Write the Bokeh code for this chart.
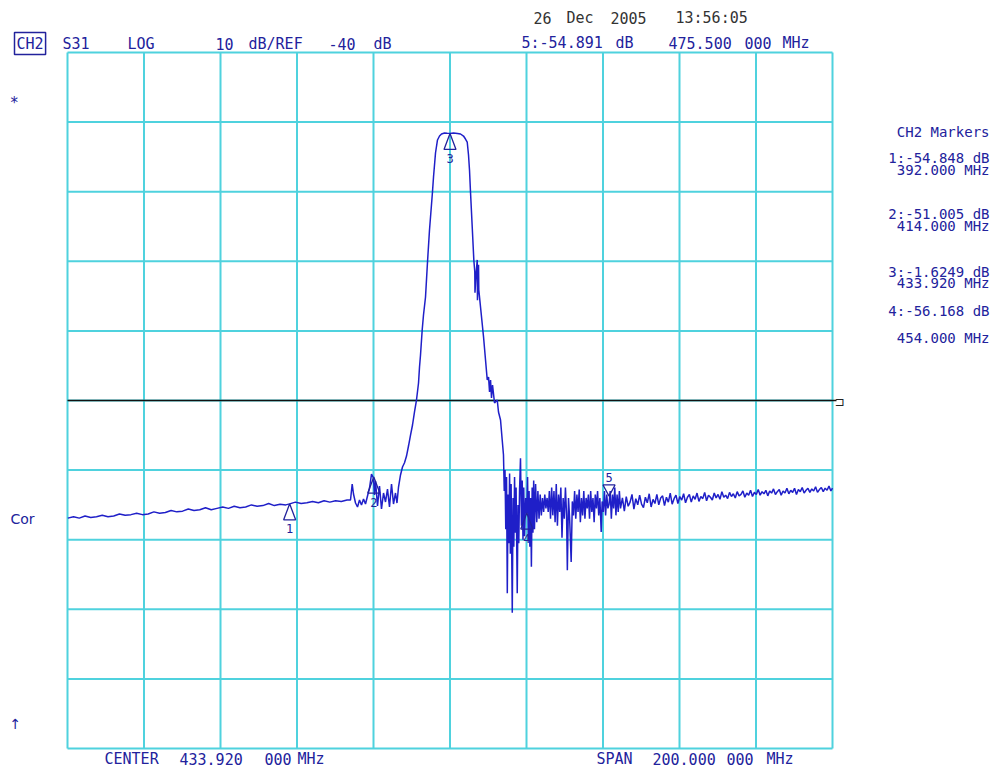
from bokeh.plotting import figure
from bokeh.models import Label, Range1d
from bokeh.core.properties import value
from bokeh.embed import file_html
from bokeh.resources import INLINE

# ---------------- instrument settings ----------------
center_mhz = 433.92
span_mhz = 200.0
ref_db = -40.0
x_ticks = [333.92, 353.92, 373.92, 393.92, 413.92, 433.92, 453.92, 473.92, 493.92, 513.92, 533.92]
y_ticks = [10, 0, -10, -20, -30, -40, -50, -60, -70, -80, -90]

# ---------------- markers ----------------
marker_ids = ["1", "2", "3", "4"]
marker_mhz = [392.0, 414.0, 433.92, 454.0]
marker_db = [-54.848, -51.005, -1.6249, -56.168]
active_id = "5"
active_mhz = 475.5
active_db = -54.891

# ---------------- trace S31 (MHz, dB) ----------------
stop_lo_f = [334.0, 335.5, 337.0, 338.5, 340.0, 341.5, 343.0, 344.5, 346.0, 347.5, 349.0, 350.5,
             352.0, 353.5, 355.0, 356.5, 358.0, 359.5, 361.0, 362.5, 364.0, 365.5, 367.0, 368.5,
             370.0, 371.5, 373.0, 374.5, 376.0, 377.5, 379.0, 380.5, 382.0, 383.5, 385.0, 386.5,
             388.0, 389.5, 391.0, 392.0, 393.5, 395.0, 396.5, 398.0, 399.5, 401.0, 402.5, 404.0,
             405.5, 407.0]
stop_lo_db = [-56.9, -56.7, -56.9, -56.6, -56.8, -56.7, -56.5, -56.7, -56.6, -56.3, -56.5, -56.4,
              -56.2, -56.4, -56.3, -56.0, -56.2, -56.1, -55.8, -56.0, -55.9, -55.6, -55.8, -55.7,
              -55.4, -55.7, -55.5, -55.3, -55.5, -55.2, -55.4, -55.3, -55.0, -55.2, -55.1, -54.8,
              -55.1, -54.9, -55.0, -54.85, -54.6, -54.8, -54.7, -54.5, -54.7, -54.4, -54.6, -54.4,
              -54.5, -54.3]

ripple_lo_f = [407.91, 408.35, 408.69, 409.22, 409.74, 410.26, 410.78, 411.31, 411.83, 412.35,
               412.88, 413.40, 413.92, 414.18, 414.44, 414.97, 415.49, 416.01, 416.54, 417.06,
               417.58, 418.10, 418.63, 419.15, 419.67, 420.06]
ripple_lo_db = [-54.30, -52.0, -53.43, -54.73, -55.30, -54.30, -55.01, -54.15, -54.87, -53.72,
                -52.57, -50.56, -51.13, -53.58, -51.57, -55.16, -52.28, -55.59, -53.29, -54.58,
                -52.72, -55.30, -52.0, -54.87, -53.29, -54.73]

skirt_lo_f = [420.46, 420.98, 421.50, 422.03, 422.55, 423.07, 423.60, 424.12, 424.64, 425.16,
              425.69, 425.95, 426.21, 426.65, 426.99, 427.52, 428.04, 428.56, 429.34, 429.61,
              430.13, 430.65]
skirt_lo_db = [-52.43, -50.70, -49.55, -48.95, -47.98, -46.54, -44.96, -43.52, -41.65, -39.93,
               -37.49, -35.19, -33.46, -29.87, -27.72, -25.13, -20.10, -15.50, -10.04, -7.89,
               -4.44, -2.57]

pass_f = [431.18, 431.70, 432.48, 433.20, 433.92, 434.84, 435.88, 436.67, 437.45, 437.97, 438.42]
pass_db = [-2.00, -1.71, -1.57, -1.60, -1.62, -1.55, -1.64, -1.71, -2.00, -2.43, -2.86]

skirt_hi_f = [438.76, 439.02, 439.28, 439.73, 440.15, 440.40, 440.45, 440.72, 441.04, 441.10,
              441.38, 441.45, 441.90, 442.69, 443.66, 444.00, 444.26, 444.52, 444.77, 445.04,
              445.56, 446.27, 446.60, 447.13, 447.57]
skirt_hi_db = [-4.73, -6.88, -10.04, -15.07, -19.81, -21.5, -24.5, -22.0, -19.8, -25.6,
               -20.5, -24.1, -26.57, -30.88, -37.05, -36.62, -38.78, -37.05, -39.64, -37.77,
               -40.36, -39.93, -41.65, -42.80, -45.67]

spur_f = [447.9, 448.1, 448.3, 448.5, 448.7, 448.9, 449.1, 449.3, 449.5, 449.7, 449.9, 450.2,
          450.4, 450.6, 450.8, 451.0, 451.2, 451.5, 451.7, 451.9, 452.1, 452.35, 452.6, 452.8,
          453.0, 453.2, 453.4, 453.7, 454.0, 454.2, 454.4, 454.6, 454.8, 455.0, 455.2, 455.4,
          455.6, 455.8, 456.0, 456.3, 456.6, 456.9, 457.2, 457.5, 457.8, 458.1, 458.4, 458.7,
          459.0, 459.3, 459.6, 459.9, 460.2, 460.5, 460.8, 461.1, 461.4, 461.7, 462.0, 462.3,
          462.6, 462.9, 463.2, 463.5, 463.8, 464.1, 464.4, 464.6, 464.9, 465.2, 465.6, 465.9,
          466.2, 466.5, 466.8, 467.1, 467.4, 467.7, 468.0, 468.3, 468.6, 468.9, 469.2, 469.5,
          469.8, 470.1, 470.4, 470.7, 471.0, 471.3, 471.6, 471.9, 472.2, 472.5, 472.8, 473.1,
          473.45, 473.7, 474.0, 474.3, 474.6, 474.9, 475.2, 475.5, 475.8, 476.1, 476.4, 476.7,
          477.0, 477.3, 477.6, 477.9, 478.2, 478.5]
spur_db = [-47.8, -53.0, -50.0, -58.5, -51.0, -67.7, -53.5, -60.5, -50.5, -62.0, -52.0, -70.5,
           -54.0, -61.0, -51.0, -59.0, -52.5, -67.7, -55.0, -60.5, -53.0, -48.3, -58.0, -51.5,
           -60.0, -52.5, -59.5, -54.0, -56.2, -51.0, -60.0, -53.0, -61.0, -54.0, -63.9, -52.5,
           -59.0, -51.5, -58.5, -52.0, -57.5, -53.0, -57.0, -53.5, -56.5, -54.0, -56.0, -53.5,
           -55.5, -54.0, -56.0, -53.0, -57.0, -52.5, -56.5, -53.0, -57.5, -52.0, -58.0, -53.5,
           -56.0, -52.5, -59.7, -54.0, -57.0, -52.5, -56.5, -64.4, -54.0, -57.0, -63.2, -54.5,
           -56.5, -53.0, -57.0, -53.5, -56.0, -52.8, -57.5, -54.0, -56.5, -53.0, -57.0, -54.0,
           -55.5, -53.5, -57.0, -53.0, -56.0, -54.0, -57.5, -53.5, -55.5, -53.0, -56.5, -54.0,
           -58.9, -54.5, -56.0, -53.0, -56.5, -53.5, -55.5, -54.9, -53.0, -57.0, -53.5, -55.5,
           -52.5, -56.5, -53.5, -56.0, -53.0, -55.5]

stop_hi_f = [479.0, 479.5, 480.0, 480.5, 481.0, 481.5, 482.0, 482.5, 483.0, 483.5, 484.0, 484.5,
             485.0, 485.5, 486.0, 486.5, 487.0, 487.5, 488.0, 488.5, 489.0, 489.5, 490.0, 490.5,
             491.0, 491.5, 492.0, 492.5, 493.0, 493.5, 494.0, 494.5, 495.0, 495.5, 496.0, 496.5,
             497.0, 497.5, 498.0, 498.5, 499.0, 499.5, 500.0, 500.5, 501.0, 501.5, 502.0, 502.5,
             503.0, 503.5, 504.0, 504.5, 505.0, 505.5, 506.0, 506.5, 507.0, 507.5, 508.0, 508.5,
             509.0, 509.5, 510.0, 510.5, 511.0, 511.5, 512.0, 512.5, 513.0, 513.5, 514.0, 514.5,
             515.0, 515.5, 516.0, 516.5, 517.0, 517.5, 518.0, 518.5, 519.0, 519.5, 520.0, 520.5,
             521.0, 521.5, 522.0, 522.5, 523.0, 523.5, 524.0, 524.5, 525.0, 525.5, 526.0, 526.5,
             527.0, 527.5, 528.0, 528.5, 529.0, 529.5, 530.0, 530.5, 531.0, 531.5, 532.0, 532.5,
             533.0, 533.5, 533.92]
stop_hi_db = [-54.0, -55.9, -53.8, -55.2, -54.6, -53.5, -55.6, -54.1, -55.0, -53.6, -54.9, -55.4,
              -53.9, -54.7, -53.4, -55.3, -54.2, -54.8, -53.5, -55.0, -54.0, -53.7, -55.1, -53.9,
              -54.6, -53.3, -54.9, -54.1, -53.6, -54.8, -53.8, -54.3, -53.4, -54.7, -53.9, -53.5,
              -54.6, -53.7, -54.2, -53.3, -54.5, -53.8, -54.1, -53.2, -54.4, -53.6, -53.9, -54.3,
              -53.3, -54.0, -53.5, -54.2, -53.1, -53.9, -53.6, -54.1, -53.2, -53.8, -53.4, -54.0,
              -53.1, -53.7, -53.5, -53.0, -53.9, -53.3, -53.6, -52.9, -53.8, -53.2, -53.5, -52.8,
              -53.6, -53.1, -53.4, -52.9, -53.7, -53.0, -53.3, -52.7, -53.5, -53.1, -52.8, -53.6,
              -53.0, -53.3, -52.6, -53.4, -52.9, -53.2, -52.6, -53.5, -52.8, -53.1, -52.5, -53.3,
              -52.9, -52.6, -53.2, -52.7, -53.0, -52.4, -53.2, -52.8, -52.5, -53.1, -52.6, -52.9,
              -52.3, -53.0, -52.6]

trace_f = stop_lo_f + ripple_lo_f + skirt_lo_f + pass_f + skirt_hi_f + spur_f + stop_hi_f
trace_db = stop_lo_db + ripple_lo_db + skirt_lo_db + pass_db + skirt_hi_db + spur_db + stop_hi_db

# ---------------- styling / layout ----------------
CYAN = "#4fd2de"
TRACE = "#1f1fc8"
BLUE = "#22229c"
DARK = "#333333"
MONO = "DejaVu Sans Mono"

W, H = 990, 767
FL, FR, FT, FB = 67, 832, 52, 748   # grid edges in page pixels
X0, X1 = x_ticks[0], x_ticks[-1]
Y0, Y1 = y_ticks[-1], y_ticks[0]


def fx(px):
    return X0 + (px - FL) / (FR - FL) * (X1 - X0)


def fy(py):
    return Y1 - (py - FT) / (FB - FT) * (Y1 - Y0)


# the frame covers the whole canvas; the graticule is drawn from the tick lists
p = figure(width=W, height=H, x_range=Range1d(fx(0), fx(W)), y_range=Range1d(fy(H), fy(0)),
           output_backend="svg", toolbar_location=None,
           x_axis_location=None, y_axis_location=None,
           min_border=0, min_border_left=0, min_border_right=0,
           min_border_top=0, min_border_bottom=0)
p.grid.visible = False
p.outline_line_color = None
p.background_fill_color = "white"
p.border_fill_color = "white"

# graticule
p.segment(x0=x_ticks, y0=[Y0] * len(x_ticks), x1=x_ticks, y1=[Y1] * len(x_ticks),
          line_color=CYAN, line_width=2)
p.segment(x0=[X0] * len(y_ticks), y0=y_ticks, x1=[X1] * len(y_ticks), y1=y_ticks,
          line_color=CYAN, line_width=2)

# reference line with end cap
p.segment(x0=[X0], y0=[ref_db], x1=[fx(836)], y1=[ref_db], line_color="#111111", line_width=1.5)

# trace
p.line(trace_f, trace_db, line_color=TRACE, line_width=1.5)

# marker triangles
tri_w = (X1 - X0) * 12 / (FR - FL)
tri_h = (Y1 - Y0) * 16 / (FB - FT)
xs = [[f - tri_w / 2, f, f + tri_w / 2] for f in marker_mhz]
ys = [[d - tri_h, d, d - tri_h] for d in marker_db]
p.patches(xs, ys, fill_color=None, line_color=BLUE, line_width=1.3)
p.text(x=marker_mhz, y=marker_db, text=marker_ids, y_offset=25, text_align="center",
       text_baseline="middle", text_color=BLUE, text_font=value(MONO), text_font_size="12px")

act_lift = (Y1 - Y0) * 8 / (FB - FT)
p.patches([[active_mhz - tri_w / 2, active_mhz, active_mhz + tri_w / 2]],
          [[active_db + act_lift + tri_h * 0.7, active_db + act_lift, active_db + act_lift + tri_h * 0.7]],
          fill_color=None, line_color=BLUE, line_width=1.3)
p.text(x=[active_mhz], y=[active_db], text=[active_id], y_offset=-27, text_align="center",
       text_baseline="middle", text_color=BLUE, text_font=value(MONO), text_font_size="12px")


def lab(text, px, py, size=15, color=BLUE, align="left", font=MONO, **kw):
    p.add_layout(Label(x=fx(px), y=fy(py), text=text, text_font=font,
                       text_font_size=f"{size}px", text_color=color, text_align=align,
                       text_baseline="middle", **kw))


# header
lab("CH2", 14, 43, border_line_color=BLUE, border_line_width=1.5, padding=2)
lab("S31", 62, 43)
lab("LOG", 127, 43)
lab("10", 215, 43)
lab("dB/REF", 248, 43)
lab(f"{ref_db:.0f}", 328, 43)
lab("dB", 373, 43)

lab(f"{active_id}:{active_db:.3f}", 521, 42)
lab("dB", 615, 42)
lab(f"{active_mhz:.3f}", 668, 42)
lab("000", 744, 42)
lab("MHz", 782, 42)

lab("26", 533, 17, color=DARK)
lab("Dec", 566, 17, color=DARK)
lab("2005", 610, 17, color=DARK)
lab("13:56:05", 675, 17, color=DARK)

# left side annotations
lab("*", 10, 102, size=15, font="DejaVu Sans")
lab("Cor", 10, 518, size=14, font="DejaVu Sans")
lab("↑", 9, 723, size=14, font="DejaVu Sans")

# reference line end cap
lab("⊐", 834, 401, size=12, color="#222222", font="DejaVu Sans")

# right marker table
lab("CH2 Markers", 989, 131, size=14, align="right")
row_y = [(157, 169), (213, 225), (271, 282), (310, 337)]
for mid, f, d, (ya, yb) in zip(marker_ids, marker_mhz, marker_db, row_y):
    lab(f"{mid}:{d:.5g} dB", 989, ya, size=14, align="right")
    lab(f"{f:.3f} MHz", 989, yb, size=14, align="right")

# bottom
lab("CENTER", 104, 758)
lab(f"{center_mhz:.3f}", 179, 758)
lab("000", 264, 758)
lab("MHz", 297, 758)
lab("SPAN", 596, 758)
lab(f"{span_mhz:.3f}", 652, 758)
lab("000", 726, 758)
lab("MHz", 766, 758)

open("out.html", "w").write(file_html(p, INLINE))
